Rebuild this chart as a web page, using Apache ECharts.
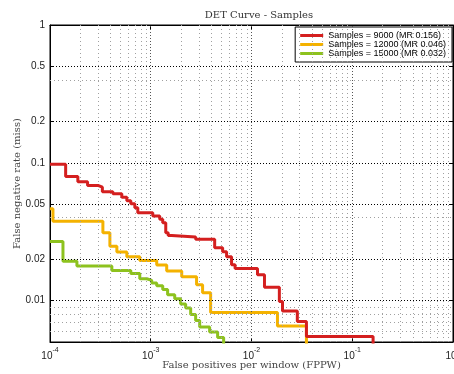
<!DOCTYPE html>
<html><head><meta charset="utf-8">
<script src="https://cdn.jsdelivr.net/npm/echarts@6/dist/echarts.min.js"></script>
<style>html,body{margin:0;padding:0;background:#fff}#c{width:454px;height:374px}</style>
</head><body><div id="c"></div>
<script>
const titleText = 'DET Curve - Samples';
const xName = 'False positives per window (FPPW)';
const yName = 'False negative rate (miss)';
const seriesNames = ['Samples = 9000 (MR 0.156)', 'Samples = 12000 (MR 0.046)', 'Samples = 15000 (MR 0.032)'];
const seriesColors = ['#d41f1f', '#f4b200', '#8dc21e'];

// staircase points: each (fppw, miss) starts a horizontal run
const fppw9000 = [1e-4, 1.43e-4, 1.89e-4, 2.36e-4, 2.99e-4, 3.31e-4, 4.21e-4, 5.16e-4, 5.79e-4, 6.34e-4, 6.95e-4, 7.44e-4, 1.047e-3, 1.228e-3, 1.315e-3, 1.409e-3, 1.49e-3, 1.614e-3, 2.79e-3, 4.31e-3, 5.17e-3, 5.66e-3, 6.34e-3, 6.87e-3, 0.01147, 0.01345, 0.0189, 0.0203, 0.0285, 0.0351, 0.161, 0.161];
const miss9000 = [0.0975, 0.0796, 0.0728, 0.0685, 0.0665, 0.0617, 0.0596, 0.0561, 0.0531, 0.0505, 0.0472, 0.0434, 0.0411, 0.0389, 0.0367, 0.0311, 0.0296, 0.0289, 0.0279, 0.0242, 0.0226, 0.0208, 0.0182, 0.0171, 0.0154, 0.0125, 0.00984, 0.00839, 0.00705, 0.00549, 0.00549, 0.004];

const fppw12000 = [1e-4, 1.07e-4, 3.35e-4, 3.93e-4, 4.61e-4, 5.79e-4, 7.78e-4, 1.146e-3, 1.44e-3, 2.03e-3, 2.85e-3, 3.27e-3, 3.93e-3, 0.0181, 0.0351, 0.0351];
const miss12000 = [0.0464, 0.0377, 0.0311, 0.0248, 0.0225, 0.0208, 0.0195, 0.0181, 0.0164, 0.0149, 0.0130, 0.0114, 0.00818, 0.00653, 0.00653, 0.004];

const fppw15000 = [1e-4, 1.345e-4, 1.85e-4, 4.11e-4, 6.34e-4, 7.78e-4, 9.12e-4, 1.023e-3, 1.146e-3, 1.315e-3, 1.47e-3, 1.73e-3, 1.98e-3, 2.22e-3, 2.49e-3, 2.79e-3, 3.06e-3, 3.84e-3, 4.61e-3, 5.29e-3, 5.29e-3];
const miss15000 = [0.0268, 0.0193, 0.0178, 0.0165, 0.0157, 0.0144, 0.0140, 0.0134, 0.0128, 0.0120, 0.0110, 0.0103, 0.00943, 0.00883, 0.00792, 0.00717, 0.00643, 0.00591, 0.00540, 0.00540, 0.004];

const yTickLabels = [1, 0.5, 0.2, 0.1, 0.05, 0.02, 0.01];
const yMajorGrid = [0.5, 0.2, 0.1, 0.05, 0.02, 0.01];
const yMinorGrid = [0.4, 0.04, 0.009, 0.008, 0.007, 0.006];
const xMajorGrid = [1e-3, 1e-2, 1e-1];
const xMinorMultipliers = [2, 3, 4, 5, 6, 7, 8, 9];
const xDecades = [1e-4, 1e-3, 1e-2, 1e-1];

const xMinorGrid = [];
xDecades.forEach(d => xMinorMultipliers.forEach(m => xMinorGrid.push(+(m * d).toPrecision(3))));

const zip = (a, b) => a.map((v, i) => [v, b[i]]);
const sansFont = 'Liberation Sans';
const serifFont = 'DejaVu Serif';

const chart = echarts.init(document.getElementById('c'), null, {renderer: 'canvas'});

const gridLineSeries = {
  type: 'line', data: [], z: 1, silent: true, animation: false,
  markLine: {
    silent: true, symbol: 'none', animation: false, label: {show: false}, precision: 12,
    data: [
      ...yMinorGrid.map(v => ({yAxis: v, lineStyle: {color: '#a0a0a0', width: 1, type: [1, 3]}})),
      ...xMinorGrid.map(v => ({xAxis: v, lineStyle: {color: '#a0a0a0', width: 1, type: [1, 3]}})),
      ...yMajorGrid.map(v => ({yAxis: v, lineStyle: {color: '#000', width: 1, type: [1, 2]}})),
      ...xMajorGrid.map(v => ({xAxis: v, lineStyle: {color: '#555', width: 1, type: [1, 2]}}))
    ]
  }
};

const dataSets = [zip(fppw9000, miss9000), zip(fppw12000, miss12000), zip(fppw15000, miss15000)];
const curves = dataSets.map((d, i) => ({
  name: seriesNames[i], type: 'line', data: d, step: 'end', showSymbol: false, symbol: 'none',
  z: 5 - i, clip: true, animation: false,
  lineStyle: {color: seriesColors[i], width: 3}, itemStyle: {color: seriesColors[i]}
}));

chart.setOption({
  backgroundColor: '#fff',
  animation: false,
  title: {
    text: titleText, left: 254, top: 5, textAlign: 'center',
    textStyle: {fontFamily: serifFont, fontSize: 10, fontWeight: 'normal', color: '#333'}
  },
  legend: {
    data: seriesNames, orient: 'vertical', right: 2, top: 27,
    backgroundColor: '#fff', borderColor: '#000', borderWidth: 1,
    padding: [4, 6, 4, 5], itemGap: 0, itemWidth: 23, itemHeight: 3, icon: 'rect',
    textStyle: {fontFamily: sansFont, fontSize: 9, color: '#000', lineHeight: 9}
  },
  grid: {left: 50, right: 1, top: 25, bottom: 32, show: true, borderColor: '#000', borderWidth: 1,
         containLabel: false, outerBoundsMode: 'none'},
  xAxis: [{
    type: 'log', logBase: 10, min: 1e-4, max: 1,
    name: xName, nameLocation: 'middle', nameGap: 18, nameMoveOverlap: false,
    nameTextStyle: {fontFamily: serifFont, fontSize: 10, color: '#444'},
    axisLine: {show: true, lineStyle: {color: '#000', width: 1}},
    axisTick: {show: true, inside: true, length: 4, lineStyle: {color: '#000'}},
    splitLine: {show: false}, minorTick: {show: false},
    axisLabel: {
      show: true, margin: 5, showMaxLabel: true, showMinLabel: true, hideOverlap: false,
      formatter: v => '{b|10}{e|' + Math.round(Math.log10(v)) + '}',
      rich: {
        b: {fontFamily: sansFont, fontSize: 10, color: '#222', verticalAlign: 'bottom', lineHeight: 14},
        e: {fontFamily: sansFont, fontSize: 7, color: '#222', verticalAlign: 'top', lineHeight: 14}
      }
    }
  }, {
    type: 'log', logBase: 10, min: 1e-4, max: 1, position: 'top',
    axisLine: {show: true, lineStyle: {color: '#000'}},
    axisTick: {show: true, inside: true, length: 4, lineStyle: {color: '#000'}},
    axisLabel: {show: false}, splitLine: {show: false}
  }],
  yAxis: [{
    type: 'log', logBase: 10, min: 0.005, max: 1,
    name: yName, nameLocation: 'middle', nameGap: 28, nameRotate: 90, nameMoveOverlap: false,
    nameTextStyle: {fontFamily: serifFont, fontSize: 10, color: '#444'},
    axisLine: {show: true, lineStyle: {color: '#000', width: 1}},
    axisTick: {show: true, inside: true, length: 4, lineStyle: {color: '#000'}, customValues: yTickLabels},
    splitLine: {show: false},
    axisLabel: {
      show: true, margin: 5, customValues: yTickLabels,
      fontFamily: sansFont, fontSize: 10, color: '#222',
      formatter: v => String(+v.toPrecision(3))
    }
  }, {
    type: 'log', logBase: 10, min: 0.005, max: 1, position: 'right',
    axisLine: {show: true, lineStyle: {color: '#000'}},
    axisTick: {show: true, inside: true, length: 4, lineStyle: {color: '#000'}, customValues: yTickLabels},
    axisLabel: {show: false}, splitLine: {show: false}
  }],
  series: [gridLineSeries, ...curves]
});
</script>
</body></html>
